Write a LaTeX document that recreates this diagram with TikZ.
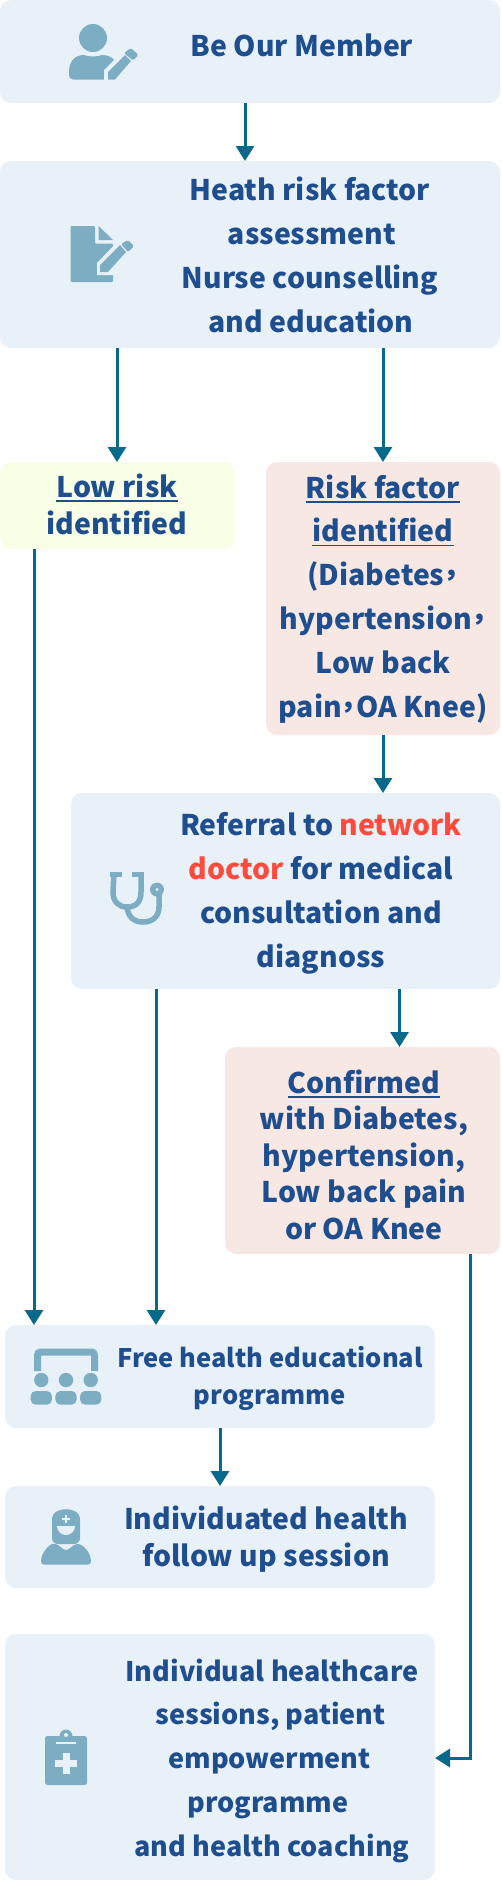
\documentclass[tikz,border=0pt]{standalone}
\usepackage{fontspec}
\setmainfont{Noto Sans CJK TC}
\newfontfamily\pcomma[RawFeature=+palt]{Noto Sans CJK TC}
\usetikzlibrary{arrows.meta}
\definecolor{boxblue}{HTML}{E9F1F8}
\definecolor{boxyellow}{HTML}{F9FFE6}
\definecolor{boxpink}{HTML}{F8E8E3}
\definecolor{inktext}{HTML}{1F4E8F}
\definecolor{inkred}{HTML}{FF4B3E}
\definecolor{arrowteal}{HTML}{086A8A}
\definecolor{iconblue}{HTML}{7DADC2}
\newcommand\ulin[1]{\setbox0\hbox{#1}\rlap{\raisebox{-4.5pt}{\rule{\wd0}{1.2pt}}}\box0 }
\newcommand\cjkc{{\pcomma\bfseries ，}}
\tikzset{
  x=1pt,y=-1pt,
  box/.style={rounded corners=11pt,inner sep=0pt,outer sep=0pt,draw=none},
  bluebox/.style={box,fill=boxblue},
  yellowbox/.style={box,fill=boxyellow},
  pinkbox/.style={box,fill=boxpink},
  txt/.style 2 args={inner sep=0pt,outer sep=0pt,anchor=base,align=center,text=inktext,font=\bfseries\fontsize{#1}{#2}\selectfont},
  flow/.style={draw=arrowteal,line width=3pt,-{Triangle[length=15pt,width=18pt]}},
  icon/.style={fill=iconblue,draw=none},
  iconline/.style={draw=iconblue,fill=none},
}
\begin{document}
\begin{tikzpicture}
\useasboundingbox (0,0) rectangle (501,1880);
% boxes
\node[bluebox,minimum width=500pt,minimum height=103pt] (b1) at (250,51.5) {};
\node[bluebox,minimum width=500pt,minimum height=187pt] (b2) at (250,254.5) {};
\node[yellowbox,minimum width=235pt,minimum height=87pt] (low) at (117.5,505.5) {};
\node[pinkbox,minimum width=234pt,minimum height=273pt] (risk) at (383,598.5) {};
\node[bluebox,minimum width=429pt,minimum height=196pt] (ref) at (285.5,891) {};
\node[pinkbox,minimum width=275pt,minimum height=207pt] (conf) at (362.5,1150.5) {};
\node[bluebox,minimum width=430pt,minimum height=103pt] (free) at (220,1376.5) {};
\node[bluebox,minimum width=430pt,minimum height=102pt] (fol) at (220,1537) {};
\node[bluebox,minimum width=430pt,minimum height=246pt] (ind) at (220,1757) {};
% text
\node[txt={28.4}{36}] (t1) at (302,56) {Be Our Member};
\node[txt={28.4}{44}] (t2) at (310,332) {Heath risk factor\\\hspace*{4pt}assessment\\Nurse counselling\\\hspace*{2pt}and education};
\node[txt={28.4}{37}] (t3) at (117,534) {\ulin{Low risk}\\identified};
\node[txt={28.4}{43.8}] (t4) at (383,717) {\ulin{Risk factor}\\\ulin{identified}\\(Diabetes\cjkc\\hypertension\cjkc\\Low back\\pain\cjkc OA Knee)};
\node[txt={28.4}{43.7}] (t5) at (321,967) {Referral to \textcolor{inkred}{network}\\\textcolor{inkred}{doctor} for medical\\consultation and\\diagnoss};
\node[txt={28.4}{36.5}] (t6) at (364,1239) {\ulin{Confirmed}\\with Diabetes,\\hypertension,\\Low back pain\\or OA Knee};
\node[txt={25.5}{36.5}] (t7) at (270,1404) {Free health educational\\programme};
\node[txt={28.4}{36.5}] (t8) at (266,1566) {Individuated health\\follow up session};
\node[txt={27}{43.7}] (t9) at (272,1856) {Individual healthcare\\\hspace*{-3pt}sessions, patient\\\hspace*{-5pt}empowerment\\\hspace*{-8pt}programme\\and health coaching};
% connectors
\coordinate (a1) at (245,0);
\coordinate (a2) at (117,0);
\coordinate (a3) at (383,0);
\coordinate (a4) at (399.5,0);
\coordinate (a5) at (34,0);
\coordinate (a6) at (156,0);
\coordinate (a7) at (220,0);
\coordinate (a8) at (470,0);
\coordinate (a9) at (0,1758);
\draw[flow] (a1 |- b1.south) -- (a1 |- b2.north);
\draw[flow] (a2 |- b2.south) -- (a2 |- low.north);
\draw[flow] (a3 |- b2.south) -- (a3 |- risk.north);
\draw[flow] (a3 |- risk.south) -- (a3 |- ref.north);
\draw[flow] (a4 |- ref.south) -- (a4 |- conf.north);
\draw[flow] (a5 |- low.south) -- (a5 |- free.north);
\draw[flow] (a6 |- ref.south) -- (a6 |- free.north);
\draw[flow] (a7 |- free.south) -- (a7 |- fol.north);
\draw[flow] (a8 |- conf.south) -- (a8 |- a9) -- (ind.east |- a9);
% icon: member
\fill[icon] (93,38) circle (14);
\fill[icon] (69,72) .. controls (69,61) and (75,55) .. (84,55) .. controls (88,57) and (98,57) .. (102,55) .. controls (108,55) and (112,57) .. (115,61) -- (104,72) -- (104,79.5) -- (73,79.5) .. controls (70,79.5) and (69,77) .. (69,75) -- cycle;
\fill[boxblue] (104,80.5) -- (104,70) -- (124,50) -- (132,60) -- (114,80.5) -- cycle;
\fill[icon] (108,79.5) -- (108,72) -- (125,55) -- (131,61) -- (115,79.5) -- cycle;
\fill[icon,rounded corners=1.5pt] (124,53) -- (131,48) -- (138.5,55) -- (133,60.5) -- cycle;
% icon: document
\fill[icon,rounded corners=1pt] (70.5,226) -- (95,226) -- (95,243.5) -- (113,243.5) -- (113,282) -- (70.5,282) -- cycle;
\fill[icon] (98.5,226) -- (113,240) -- (98.5,240) -- cycle;
\fill[boxblue] (97,275) -- (97,263) -- (121,238) -- (133,250) -- (113,275) -- cycle;
\fill[icon] (100,272) -- (100,265) -- (120,245) -- (126,252) -- (108,272) -- cycle;
\fill[icon,rounded corners=1.5pt] (121,244) -- (128,240) -- (134,246) -- (128,252) -- cycle;
% icon: stethoscope
\draw[iconline,line width=5.5pt] (114,873) -- (113,892) .. controls (113,902) and (119,907) .. (127,907) .. controls (136,907) and (141,902) .. (141,892) -- (141,873);
\draw[iconline,line width=5.5pt] (127,907) .. controls (128,917) and (134,922) .. (143,922) .. controls (153,922) and (159,916) .. (159,907) -- (159,893);
\fill[icon] (110,872) rectangle (122,877);
\fill[icon] (132,872) rectangle (144,877);
\fill[icon] (157,889.5) circle (7);
\fill[boxblue] (157,889.5) circle (1.7);
% icon: class
\draw[iconline,line width=7pt,rounded corners=3pt] (37.5,1371) -- (37.5,1352) -- (94.5,1352) -- (94.5,1371);
\foreach \cx in {41.3,66,90.7}{
  \fill[icon] (\cx,1380) circle (7.2);
  \fill[icon,rounded corners=5pt] (\cx-10.6,1404.7) -- (\cx-10.6,1391) -- (\cx+10.6,1391) -- (\cx+10.6,1404.7) -- cycle;
}
% icon: nurse
\fill[icon,rounded corners=6pt] (52,1544) -- (52,1513) -- (66,1508) -- (80,1513) -- (80,1544) -- cycle;
\fill[boxblue] (57,1526) -- (75,1526) arc (0:180:9) -- cycle;
\fill[boxblue] (64.8,1515) rectangle (67.2,1523);
\fill[boxblue] (62,1517.8) rectangle (70,1520.2);
\fill[icon,rounded corners=3pt] (41,1564.5) .. controls (41,1552) and (50,1544) .. (56,1543.5) -- (66,1551) -- (76,1543.5) .. controls (83,1545) and (91,1552) .. (91,1564.5) -- cycle;
% icon: clipboard
\fill[icon,rounded corners=2.5pt] (45,1736) rectangle (87,1785);
\fill[icon] (66,1736) circle (6.5);
\fill[boxblue] (66,1735) circle (2);
\fill[boxblue] (56,1742) rectangle (76,1744);
\fill[boxblue] (62.5,1753) rectangle (69.5,1774);
\fill[boxblue] (55,1760) rectangle (77,1767);
\end{tikzpicture}
\end{document}
